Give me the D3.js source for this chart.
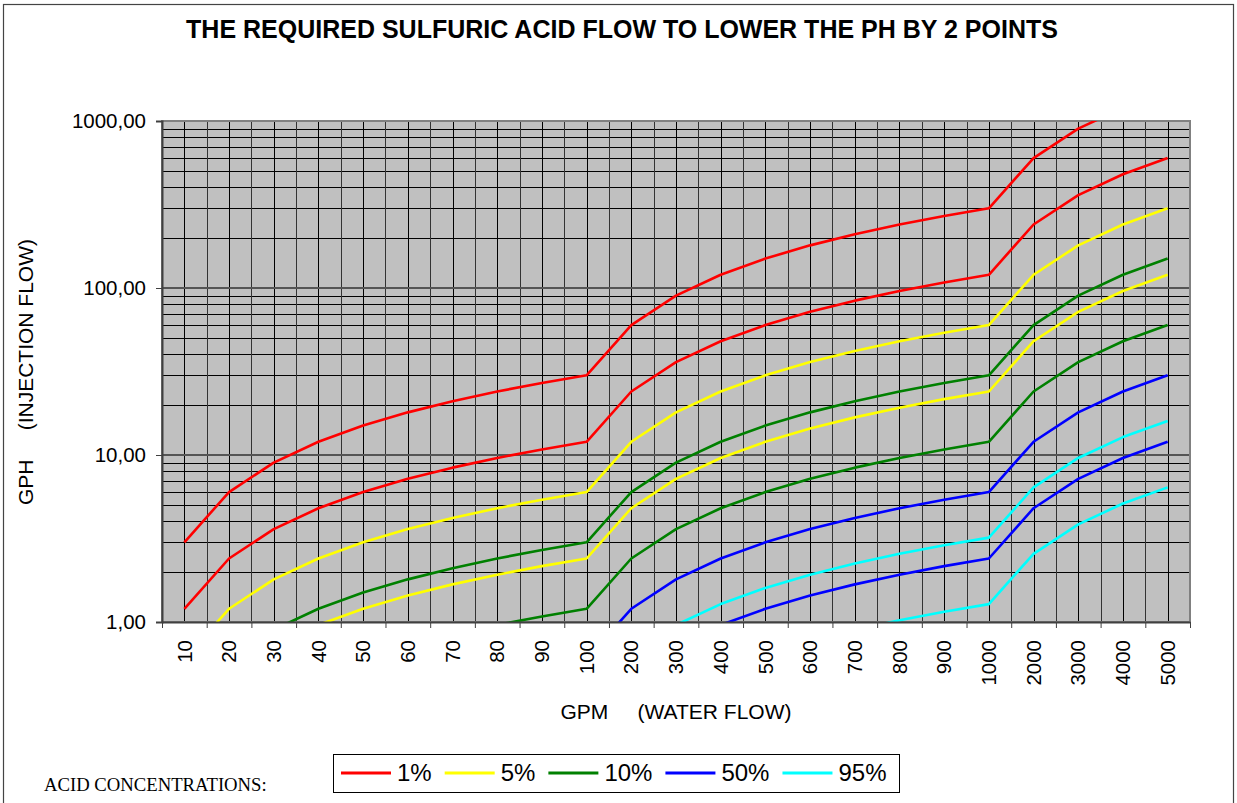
<!DOCTYPE html>
<html>
<head>
<meta charset="utf-8">
<script src="https://cdn.jsdelivr.net/npm/d3@7"></script>
<style>
  body { margin: 0; background: #fff; }
  svg { display: block; font-family: "Liberation Sans", Arial, sans-serif; }
</style>
</head>
<body>
<div id="chart"></div>
<script>
// water flow categories (GPM)
const gpm = ["10", "20", "30", "40", "50", "60", "70", "80", "90", "100",
  "200", "300", "400", "500", "600", "700", "800", "900", "1000",
  "2000", "3000", "4000", "5000"];

// injection flow (GPH), two curves per acid concentration
const red1 = [3, 6, 9, 12, 15, 18, 21, 24, 27, 30, 60, 90, 120, 150, 180, 210, 240, 270, 300, 600, 900, 1200, 1500];
const red2 = [1.2, 2.4, 3.6, 4.8, 6, 7.2, 8.4, 9.6, 10.8, 12, 24, 36, 48, 60, 72, 84, 96, 108, 120, 240, 360, 480, 600];
const yellow1 = [0.6, 1.2, 1.8, 2.4, 3, 3.6, 4.2, 4.8, 5.4, 6, 12, 18, 24, 30, 36, 42, 48, 54, 60, 120, 180, 240, 300];
const yellow2 = [0.24, 0.48, 0.72, 0.96, 1.2, 1.44, 1.68, 1.92, 2.16, 2.4, 4.8, 7.2, 9.6, 12, 14.4, 16.8, 19.2, 21.6, 24, 48, 72, 96, 120];
const green1 = [0.3, 0.6, 0.9, 1.2, 1.5, 1.8, 2.1, 2.4, 2.7, 3, 6, 9, 12, 15, 18, 21, 24, 27, 30, 60, 90, 120, 150];
const green2 = [0.12, 0.24, 0.36, 0.48, 0.6, 0.72, 0.84, 0.96, 1.08, 1.2, 2.4, 3.6, 4.8, 6, 7.2, 8.4, 9.6, 10.8, 12, 24, 36, 48, 60];
const blue1 = [0.06, 0.12, 0.18, 0.24, 0.3, 0.36, 0.42, 0.48, 0.54, 0.6, 1.2, 1.8, 2.4, 3, 3.6, 4.2, 4.8, 5.4, 6, 12, 18, 24, 30];
const blue2 = [0.024, 0.048, 0.072, 0.096, 0.12, 0.144, 0.168, 0.192, 0.216, 0.24, 0.48, 0.72, 0.96, 1.2, 1.44, 1.68, 1.92, 2.16, 2.4, 4.8, 7.2, 9.6, 12];
const cyan1 = [0.032, 0.064, 0.096, 0.128, 0.16, 0.192, 0.224, 0.256, 0.288, 0.32, 0.64, 0.96, 1.28, 1.6, 1.92, 2.24, 2.56, 2.88, 3.2, 6.4, 9.6, 12.8, 16];
const cyan2 = [0.0128, 0.0256, 0.0384, 0.0512, 0.064, 0.0768, 0.0896, 0.1024, 0.1152, 0.128, 0.256, 0.384, 0.512, 0.64, 0.768, 0.896, 1.024, 1.152, 1.28, 2.56, 3.84, 5.12, 6.4];

const concentrations = ["1%", "5%", "10%", "50%", "95%"];
const yTicks = [1, 10, 100, 1000];

const series = [
  { conc: "1%", values: red1 }, { conc: "1%", values: red2 },
  { conc: "5%", values: yellow1 }, { conc: "5%", values: yellow2 },
  { conc: "10%", values: green1 }, { conc: "10%", values: green2 },
  { conc: "50%", values: blue1 }, { conc: "50%", values: blue2 },
  { conc: "95%", values: cyan1 }, { conc: "95%", values: cyan2 }
];

let width = 1237,
    height = 803,
    margin = ({ top: 121, right: 47, bottom: 181, left: 162 });

const svg = d3.select("#chart")
  .append("svg")
  .attr("width", width)
  .attr("height", height);

let x = d3.scaleBand()
  .domain(gpm)
  .range([margin.left, width - margin.right])
  .padding(0);

let xEdges = d3.scaleLinear()
  .domain([0, gpm.length])
  .range([margin.left, width - margin.right]);

let y = d3.scaleLog()
  .domain([1, 1000])
  .range([height - margin.bottom, margin.top]);

let color = d3.scaleOrdinal()
  .domain(concentrations)
  .range(["#ff0000", "#ffff00", "#008000", "#0000ff", "#00ffff"]);

const pw = width - margin.left - margin.right,
      ph = height - margin.top - margin.bottom;

// outer chart frame
svg.append("rect")
  .attr("x", 3.5).attr("y", 4.5)
  .attr("width", 1230).attr("height", 820)
  .attr("fill", "none")
  .attr("stroke", "#444")
  .attr("stroke-width", 1.2);

// plot area
svg.append("rect")
  .attr("x", margin.left).attr("y", margin.top)
  .attr("width", pw).attr("height", ph)
  .attr("fill", "#c0c0c0");

// horizontal minor grid
let minor = [];
for (let dec of [1, 10, 100]) for (let k = 2; k <= 9; k++) minor.push(dec * k);
svg.append("g")
  .selectAll("line")
  .data(minor)
  .join("line")
  .attr("x1", margin.left).attr("x2", width - margin.right)
  .attr("y1", d => Math.round(y(d)) + 0.5).attr("y2", d => Math.round(y(d)) + 0.5)
  .attr("stroke", "#000").attr("stroke-width", 1);

// vertical grid: category edges and centres
svg.append("g")
  .selectAll("line")
  .data(d3.range(1, gpm.length))
  .join("line")
  .attr("x1", d => Math.round(xEdges(d)) + 0.5).attr("x2", d => Math.round(xEdges(d)) + 0.5)
  .attr("y1", margin.top).attr("y2", height - margin.bottom)
  .attr("stroke", "#333").attr("stroke-width", 1);

svg.append("g")
  .selectAll("line")
  .data(gpm)
  .join("line")
  .attr("x1", d => Math.round(x(d) + x.bandwidth() / 2) + 0.5)
  .attr("x2", d => Math.round(x(d) + x.bandwidth() / 2) + 0.5)
  .attr("y1", margin.top).attr("y2", height - margin.bottom)
  .attr("stroke", "#000").attr("stroke-width", 1);

// major horizontal grid
svg.append("g")
  .selectAll("line")
  .data([10, 100])
  .join("line")
  .attr("x1", margin.left).attr("x2", width - margin.right)
  .attr("y1", d => y(d)).attr("y2", d => y(d))
  .attr("stroke", "#555").attr("stroke-width", 2);

// plot border
svg.append("rect")
  .attr("x", margin.left).attr("y", margin.top)
  .attr("width", pw).attr("height", ph)
  .attr("fill", "none")
  .attr("stroke", "#808080")
  .attr("stroke-width", 2);

// data lines
svg.append("clipPath")
  .attr("id", "plot-clip")
  .append("rect")
  .attr("x", margin.left).attr("y", margin.top)
  .attr("width", pw).attr("height", ph);

let line = d3.line()
  .x((d, i) => x(gpm[i]) + x.bandwidth() / 2)
  .y(d => y(d));

svg.append("g")
  .attr("clip-path", "url(#plot-clip)")
  .selectAll("path")
  .data(series)
  .join("path")
  .attr("d", d => line(d.values))
  .attr("fill", "none")
  .attr("stroke", d => color(d.conc))
  .attr("stroke-width", 2.6)
  .attr("stroke-linejoin", "round");

// y axis
const yAxis = svg.append("g")
  .attr("transform", `translate(${margin.left},0)`)
  .call(d3.axisLeft(y)
    .tickValues(yTicks)
    .tickFormat(d => d3.format(".2f")(d).replace(".", ","))
    .tickSize(6)
    .tickPadding(10));
yAxis.select(".domain").attr("stroke", "#404040").attr("stroke-width", 2);
yAxis.selectAll(".tick line").attr("stroke", "#404040");
yAxis.selectAll("text")
  .style("font-size", "20.5px")
  .style("font-family", "Liberation Sans, Arial, sans-serif")
  .attr("fill", "#000");

// x axis: tick marks on the category edges, labels in the centres
const xTicks = svg.append("g")
  .attr("transform", `translate(0,${height - margin.bottom})`)
  .call(d3.axisBottom(xEdges)
    .tickValues(d3.range(0, gpm.length + 1))
    .tickFormat("")
    .tickSize(6)
    .tickSizeOuter(0));
xTicks.select(".domain").attr("stroke", "#404040").attr("stroke-width", 2);
xTicks.selectAll(".tick line").attr("stroke", "#404040");

const xAxis = svg.append("g")
  .attr("transform", `translate(0,${height - margin.bottom})`)
  .call(d3.axisBottom(x).tickSize(0));
xAxis.select(".domain").remove();
xAxis.selectAll("text")
  .attr("transform", "rotate(-90)")
  .attr("x", -18)
  .attr("y", 0)
  .attr("dy", "0.35em")
  .attr("text-anchor", "end")
  .style("font-size", "20.5px")
  .style("font-family", "Liberation Sans, Arial, sans-serif")
  .attr("fill", "#000");

// titles
svg.append("text")
  .attr("x", 622)
  .attr("y", 38)
  .attr("text-anchor", "middle")
  .style("font-size", "25px")
  .style("font-weight", "bold")
  .text("THE REQUIRED SULFURIC ACID FLOW TO LOWER THE PH BY 2 POINTS");

svg.append("text")
  .attr("x", 676)
  .attr("y", 719)
  .attr("text-anchor", "middle")
  .style("font-size", "21px")
  .style("white-space", "pre")
  .text("GPM     (WATER FLOW)");

svg.append("text")
  .attr("transform", "rotate(-90)")
  .attr("x", -372)
  .attr("y", 33)
  .attr("text-anchor", "middle")
  .style("font-size", "21px")
  .style("white-space", "pre")
  .text("GPH     (INJECTION FLOW)");

svg.append("text")
  .attr("x", 44)
  .attr("y", 791)
  .style("font-family", "Liberation Serif, Times New Roman, serif")
  .style("font-size", "18.7px")
  .text("ACID CONCENTRATIONS:");

// legend
svg.append("rect")
  .attr("x", 333.5).attr("y", 754.5)
  .attr("width", 566).attr("height", 38)
  .attr("fill", "#fff")
  .attr("stroke", "#000")
  .attr("stroke-width", 1);

const legend = svg.append("g")
  .selectAll("g")
  .data(concentrations)
  .join("g");

legend.append("line")
  .attr("x1", 0).attr("x2", 50)
  .attr("y1", 0).attr("y2", 0)
  .attr("stroke", d => color(d))
  .attr("stroke-width", 3);

legend.append("text")
  .attr("x", 56)
  .attr("y", 0)
  .attr("dy", "0.35em")
  .style("font-size", "24px")
  .text(d => d);

let lx = 341;
legend.attr("transform", function () {
  let t = `translate(${lx},773)`;
  lx += 56 + d3.select(this).select("text").node().getComputedTextLength() + 13;
  return t;
});
</script>
</body>
</html>
